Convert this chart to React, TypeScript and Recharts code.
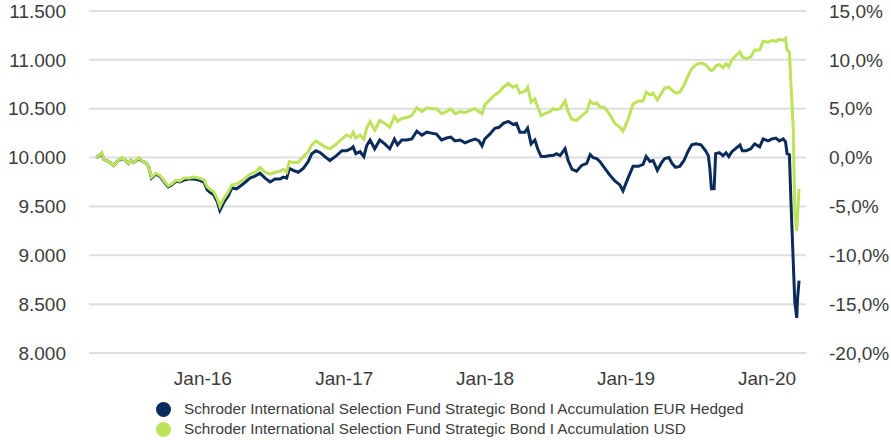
import { LineChart, Line, XAxis, YAxis, CartesianGrid, Legend } from "recharts";

const dates = [
  "2015-03-31", "2015-04-14", "2015-04-20", "2015-05-02", "2015-05-15", "2015-05-24",
  "2015-06-06", "2015-06-15", "2015-06-22", "2015-06-28", "2015-07-06", "2015-07-19",
  "2015-07-28", "2015-08-06", "2015-08-14", "2015-08-21", "2015-09-01", "2015-09-11",
  "2015-09-21", "2015-10-03", "2015-10-12", "2015-10-24", "2015-11-02", "2015-11-13",
  "2015-11-26", "2015-12-09", "2015-12-22", "2016-01-04", "2016-01-12", "2016-01-21",
  "2016-01-29", "2016-02-07", "2016-02-14", "2016-02-24", "2016-03-07", "2016-03-16",
  "2016-03-28", "2016-04-14", "2016-05-02", "2016-05-15", "2016-05-28", "2016-06-10",
  "2016-06-23", "2016-07-06", "2016-07-19", "2016-07-27", "2016-08-05", "2016-08-12",
  "2016-08-22", "2016-09-04", "2016-09-17", "2016-09-30", "2016-10-09", "2016-10-20",
  "2016-10-31", "2016-11-12", "2016-11-25", "2016-12-12", "2016-12-26", "2017-01-07",
  "2017-01-18", "2017-01-24", "2017-01-31", "2017-02-11", "2017-02-21", "2017-02-28",
  "2017-03-09", "2017-03-21", "2017-04-03", "2017-04-16", "2017-04-29", "2017-05-11",
  "2017-05-19", "2017-05-30", "2017-06-12", "2017-06-25", "2017-07-08", "2017-07-21",
  "2017-08-03", "2017-08-15", "2017-08-28", "2017-09-10", "2017-09-23", "2017-10-04",
  "2017-10-15", "2017-10-28", "2017-11-10", "2017-11-22", "2017-12-06", "2017-12-16",
  "2017-12-24", "2017-12-31", "2018-01-13", "2018-01-26", "2018-02-06", "2018-02-17",
  "2018-03-02", "2018-03-14", "2018-03-23", "2018-04-01", "2018-04-14", "2018-04-21",
  "2018-04-30", "2018-05-10", "2018-05-17", "2018-05-26", "2018-06-05", "2018-06-18",
  "2018-06-26", "2018-07-05", "2018-07-14", "2018-07-27", "2018-08-04", "2018-08-14",
  "2018-08-26", "2018-09-08", "2018-09-21", "2018-09-30", "2018-10-08", "2018-10-17",
  "2018-10-25", "2018-11-07", "2018-11-20", "2018-12-03", "2018-12-16", "2018-12-24",
  "2019-01-07", "2019-01-19", "2019-02-02", "2019-02-14", "2019-02-22", "2019-03-04",
  "2019-03-12", "2019-03-23", "2019-04-03", "2019-04-11", "2019-04-22", "2019-04-30",
  "2019-05-09", "2019-05-20", "2019-05-31", "2019-06-10", "2019-06-20", "2019-07-01",
  "2019-07-14", "2019-07-26", "2019-08-02", "2019-08-06", "2019-08-10", "2019-08-17",
  "2019-08-21", "2019-08-31", "2019-09-09", "2019-09-17", "2019-09-24", "2019-10-02",
  "2019-10-14", "2019-10-23", "2019-10-29", "2019-11-08", "2019-11-20", "2019-11-30",
  "2019-12-13", "2019-12-22", "2020-01-04", "2020-01-14", "2020-01-24", "2020-02-02",
  "2020-02-12", "2020-02-18", "2020-02-22", "2020-02-28", "2020-03-03", "2020-03-09",
  "2020-03-13", "2020-03-18", "2020-03-20", "2020-03-24",
];

// EUR hedged share class
const eurHedged = [
  10000, 10040, 9980, 9960, 9920, 9960, 9990, 9970, 9940, 9970, 9950, 9990,
  9960, 9950, 9900, 9790, 9830, 9810, 9760, 9700, 9720, 9760, 9750, 9770,
  9780, 9780, 9770, 9750, 9670, 9640, 9620, 9550, 9460, 9540, 9610, 9690,
  9680, 9730, 9790, 9810, 9840, 9790, 9750, 9780, 9780, 9800, 9790, 9890,
  9870, 9850, 9890, 9960, 10040, 10070, 10050, 10010, 9970, 10020, 10070, 10070,
  10090, 10110, 10040, 10060, 10010, 10120, 10180, 10090, 10180, 10140, 10090, 10190,
  10130, 10180, 10180, 10190, 10270, 10230, 10260, 10250, 10240, 10180, 10200, 10210,
  10170, 10180, 10150, 10170, 10190, 10170, 10120, 10190, 10240, 10300, 10310, 10350,
  10370, 10340, 10350, 10260, 10260, 10300, 10140, 10180, 10090, 10010, 10010, 10020,
  10020, 10040, 10020, 10090, 9970, 9880, 9860, 9920, 9940, 10030, 10000, 9990,
  9960, 9890, 9820, 9760, 9720, 9660, 9800, 9910, 9910, 9930, 10010, 9960,
  9970, 9870, 9950, 9990, 10000, 9940, 9900, 9910, 9970, 10060, 10130, 10140,
  10130, 10070, 10020, 9890, 9680, 9680, 10040, 10050, 10020, 10050, 10010, 10060,
  10100, 10130, 10070, 10070, 10090, 10140, 10110, 10190, 10170, 10190, 10200, 10170,
  10190, 10160, 10040, 10030, 9550, 8930, 8520, 8360, 8550, 8740,
];

// USD share class
const usd = [
  10000, 10050, 9980, 9960, 9920, 9960, 10000, 9970, 9940, 9970, 9950, 10000,
  9960, 9950, 9900, 9800, 9840, 9820, 9770, 9710, 9730, 9770, 9760, 9790,
  9790, 9800, 9790, 9770, 9700, 9670, 9650, 9580, 9500, 9580, 9650, 9720,
  9730, 9770, 9830, 9850, 9900, 9850, 9830, 9850, 9860, 9880, 9850, 9960,
  9950, 9950, 10010, 10060, 10130, 10170, 10140, 10110, 10090, 10140, 10190, 10230,
  10210, 10260, 10200, 10230, 10190, 10300, 10370, 10280, 10380, 10350, 10310, 10420,
  10370, 10400, 10410, 10430, 10510, 10470, 10510, 10500, 10500, 10450, 10470, 10500,
  10450, 10470, 10460, 10480, 10500, 10470, 10450, 10540, 10590, 10640, 10670, 10720,
  10760, 10720, 10740, 10660, 10680, 10720, 10570, 10600, 10520, 10430, 10450, 10470,
  10500, 10490, 10500, 10580, 10470, 10390, 10380, 10430, 10470, 10580, 10550, 10560,
  10520, 10510, 10440, 10350, 10310, 10270, 10400, 10550, 10580, 10580, 10670, 10640,
  10660, 10590, 10660, 10710, 10720, 10690, 10660, 10670, 10740, 10830, 10910, 10950,
  10970, 10950, 10920, 10900, 10890, 10910, 10940, 10950, 10920, 10960, 10930, 11000,
  11050, 11080, 11030, 11010, 11030, 11100, 11100, 11190, 11180, 11200, 11190, 11210,
  11200, 11220, 11100, 11080, 10750, 10300, 9440, 9250, 9400, 9680,
];

const seriesNames = [
  "Schroder International Selection Fund Strategic Bond I Accumulation EUR Hedged",
  "Schroder International Selection Fund Strategic Bond I Accumulation USD",
];

const xTicks = ["2016-01-01", "2017-01-01", "2018-01-01", "2019-01-01", "2020-01-01"];
const xDomain = ["2015-03-12", "2020-04-11"];
const leftTicks = [8000, 8500, 9000, 9500, 10000, 10500, 11000, 11500];
const rightTicks = [-20, -15, -10, -5, 0, 5, 10, 15];

const NAVY = "#0b2b5a";
const LIME = "#bce35a";
const TEXT = "#3c3c3c";
const FONT = "'Liberation Sans', Arial, sans-serif";

const chartData = dates.map((d, i) => ({
  t: Date.parse(d),
  eur: eurHedged[i],
  usd: usd[i],
}));

const fmtThousands = (v: number) =>
  `${Math.floor(v / 1000)}.${String(v % 1000).padStart(3, "0")}`;

const fmtPct = (v: number) => `${v.toFixed(1).replace(".", ",")}%`;

const fmtMonth = (t: number) => `Jan-${String(new Date(t).getUTCFullYear()).slice(2)}`;

const LegendBox = () => (
  <div style={{ paddingLeft: 156, paddingTop: 9, fontFamily: FONT }}>
    {[NAVY, LIME].map((c, i) => (
      <div key={i} style={{ display: "flex", alignItems: "center", height: 20 }}>
        <span
          style={{
            display: "inline-block",
            width: 15,
            height: 15,
            borderRadius: "50%",
            background: c,
            marginRight: 13,
          }}
        />
        <span style={{ fontSize: 15.3, color: TEXT }}>{seriesNames[i]}</span>
      </div>
    ))}
  </div>
);

export default function App() {
  const tickStyle = { fill: TEXT, fontSize: 19, fontFamily: FONT };
  return (
    <div style={{ position: "absolute", left: 0, top: 0, width: 891, height: 440, background: "#fff" }}>
      <LineChart
        width={891}
        height={440}
        data={chartData}
        margin={{ top: 11, right: 0, bottom: 0, left: 0 }}
      >
        <CartesianGrid yAxisId="left" vertical={false} stroke="#dedede" strokeWidth={2} />
        <XAxis
          dataKey="t"
          type="number"
          domain={xDomain.map((d) => Date.parse(d))}
          ticks={xTicks.map((d) => Date.parse(d))}
          tickFormatter={fmtMonth}
          axisLine={false}
          tickLine={false}
          tickSize={0}
          tickMargin={19}
          height={37}
          tick={tickStyle}
        />
        <YAxis
          yAxisId="left"
          domain={[8000, 11500]}
          ticks={leftTicks}
          tickFormatter={fmtThousands}
          axisLine={false}
          tickLine={false}
          tickSize={0}
          tickMargin={23}
          width={89}
          tick={tickStyle}
        />
        <YAxis
          yAxisId="right"
          orientation="right"
          domain={[-20, 15]}
          ticks={rightTicks}
          tickFormatter={fmtPct}
          allowDataOverflow
          axisLine={false}
          tickLine={false}
          tickSize={0}
          tickMargin={23}
          width={85}
          tick={tickStyle}
        />
        <Legend verticalAlign="bottom" height={50} content={() => <LegendBox />} />
        <Line
          yAxisId="left"
          type="linear"
          dataKey="eur"
          stroke={NAVY}
          strokeWidth={3}
          dot={false}
          isAnimationActive={false}
        />
        <Line
          yAxisId="left"
          type="linear"
          dataKey="usd"
          stroke={LIME}
          strokeWidth={3}
          dot={false}
          isAnimationActive={false}
        />
      </LineChart>
    </div>
  );
}
